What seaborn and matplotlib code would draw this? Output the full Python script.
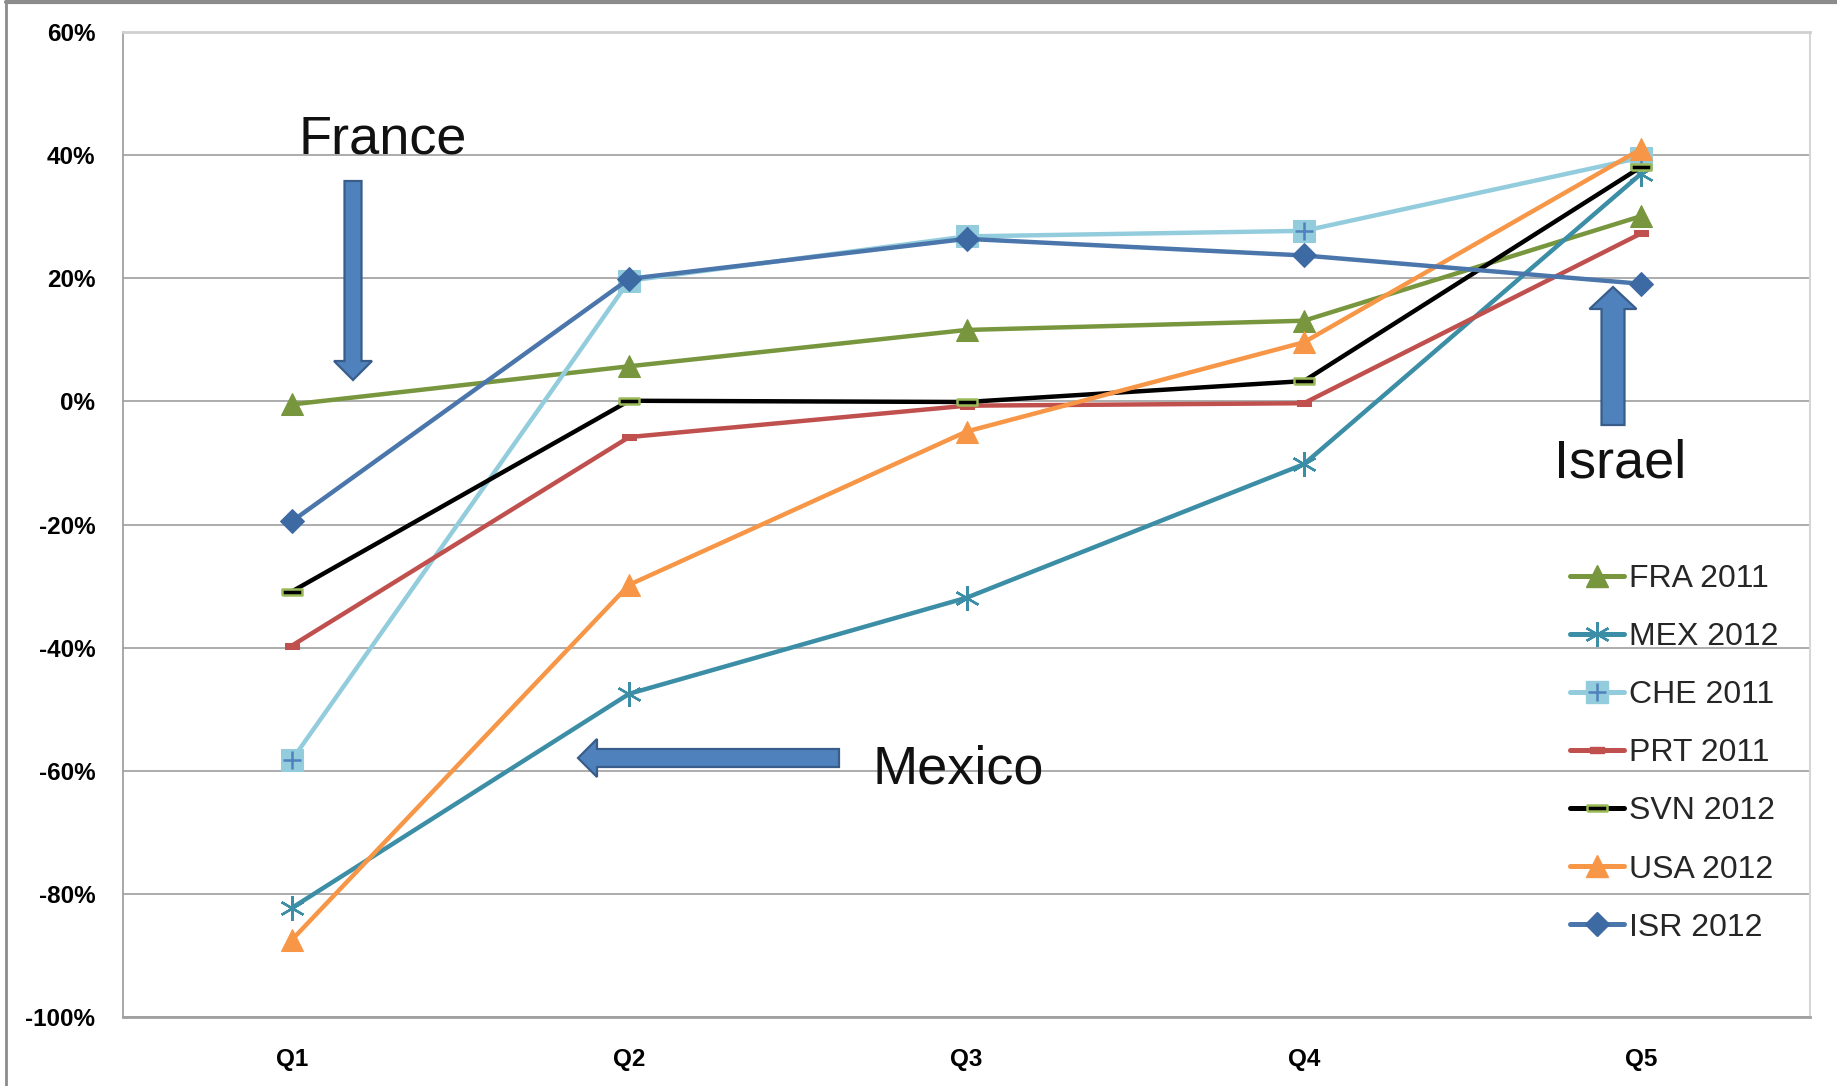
import matplotlib
matplotlib.use("Agg")
import matplotlib.pyplot as plt
from matplotlib.lines import Line2D
from matplotlib.patches import FancyArrow
from matplotlib.ticker import FuncFormatter, FixedLocator
import numpy as np
import pandas as pd
import seaborn as sns

# Income quintiles and the change in each country's series (percent)
quintiles = ["Q1", "Q2", "Q3", "Q4", "Q5"]
fra_2011 = [-0.5, 5.7, 11.6, 13.1, 30.1]
mex_2012 = [-82.3, -47.5, -31.9, -10.2, 37.0]
che_2011 = [-58.3, 19.6, 26.8, 27.7, 39.6]
prt_2011 = [-39.7, -5.8, -0.7, -0.3, 27.3]
svn_2012 = [-30.9, 0.1, -0.1, 3.3, 38.1]
usa_2012 = [-87.5, -29.8, -4.9, 9.6, 41.0]
isr_2012 = [-19.5, 19.9, 26.4, 23.7, 19.1]

series_names = ["FRA 2011", "MEX 2012", "CHE 2011", "PRT 2011",
                "SVN 2012", "USA 2012", "ISR 2012"]
series_values = [fra_2011, mex_2012, che_2011, prt_2011,
                 svn_2012, usa_2012, isr_2012]

y_ticks = [60, 40, 20, 0, -20, -40, -60, -80, -100]

sns.set_theme(style="white")
plt.rcParams["font.family"] = ["Liberation Sans", "DejaVu Sans"]
plt.rcParams["axes.unicode_minus"] = False

W, H = 1837, 1086
fig = plt.figure(figsize=(W / 100, H / 100), dpi=100)
ax = fig.add_axes([123 / W, (H - 1017) / H, (1810 - 123) / W, (1017 - 32) / H])

df = pd.DataFrame({"quintile": np.tile(np.arange(len(quintiles)), len(series_names)),
                   "value": np.concatenate(series_values),
                   "series": np.repeat(series_names, len(quintiles))})

dash_small = [(-1, -0.38), (1, -0.38), (1, 0.38), (-1, 0.38), (-1, -0.38)]
dash_wide = [(-1, -0.32), (1, -0.32), (1, 0.32), (-1, 0.32), (-1, -0.32)]
asterisk = (6, 2, 0)

styles = {
    "FRA 2011": dict(color="#77963D", marker="^", markersize=15.5,
                     markerfacecolor="#77963D", markeredgecolor="#77963D"),
    "MEX 2012": dict(color="#3B8EA5", marker=asterisk, markersize=18,
                     markeredgewidth=1.7, markeredgecolor="#3B8EA5"),
    "CHE 2011": dict(color="#93CDDD", marker="s", markersize=16,
                     markerfacecolor="#93CDDD", markeredgecolor="#93CDDD"),
    "PRT 2011": dict(color="#C0504D", marker=dash_small, markersize=10,
                     markerfacecolor="#C0504D", markeredgecolor="#C0504D"),
    "SVN 2012": dict(color="black", marker=dash_wide, markersize=15,
                     markerfacecolor="black", markeredgecolor="#9BBB59",
                     markeredgewidth=1.8),
    "USA 2012": dict(color="#F79646", marker="^", markersize=15.5,
                     markerfacecolor="#F79646", markeredgecolor="#F79646"),
    "ISR 2012": dict(color="#4A76AC", marker="D", markersize=12,
                     markerfacecolor="#3E6AA3", markeredgecolor="#3E6AA3"),
}
plus_style = dict(marker="+", markersize=13, markeredgewidth=1.8,
                  markeredgecolor="#4F81BD", linestyle="none")

handles = []
for i, name in enumerate(series_names):
    sub = df[df["series"] == name]
    st = styles[name]
    sns.lineplot(data=sub, x="quintile", y="value", ax=ax, linewidth=3.2,
                 zorder=3 + i, legend=False, **st)
    h = Line2D([], [], linewidth=3.6, **st)
    if name == "CHE 2011":
        sns.lineplot(data=sub, x="quintile", y="value", ax=ax, color="#4F81BD",
                     zorder=3 + i, legend=False, **plus_style)
        h = (h, Line2D([], [], **plus_style))
    handles.append(h)

# Axes, grid and ticks
ax.set_xlim(-0.5, len(quintiles) - 0.5)
ax.set_ylim(-100, 60)
ax.set_xlabel("")
ax.set_ylabel("")
ax.xaxis.set_major_locator(FixedLocator(np.arange(len(quintiles))))
ax.set_xticklabels(quintiles)
ax.xaxis.set_minor_locator(FixedLocator(np.arange(-0.5, len(quintiles), 1.0)))
ax.yaxis.set_major_locator(FixedLocator(y_ticks))
ax.yaxis.set_major_formatter(FuncFormatter(lambda v, p: f"{v:.0f}%"))
ax.tick_params(axis="x", which="major", length=0, pad=22, labelsize=17.5)
ax.tick_params(axis="x", which="minor", length=10, width=1, color="#9A9A9A",
               direction="out")
ax.tick_params(axis="y", which="major", length=6, width=1, color="#9A9A9A",
               direction="out", pad=14, labelsize=17.5)
for lab in ax.get_xticklabels() + ax.get_yticklabels():
    lab.set_fontweight("bold")
    lab.set_color("black")
ax.grid(axis="y", color="#A6A6A6", linewidth=1.3, zorder=0)
ax.grid(axis="x", visible=False)
ax.set_axisbelow(True)
ax.spines["left"].set_color("#9A9A9A")
ax.spines["left"].set_linewidth(1.2)
ax.spines["bottom"].set_color("#A0A0A0")
ax.spines["bottom"].set_linewidth(2.0)
ax.spines["top"].set_color("#D0D0D0")
ax.spines["top"].set_linewidth(2.0)
ax.spines["right"].set_color("#D6D6D6")
ax.spines["right"].set_linewidth(1.5)

# Legend
ax.legend(handles, series_names, loc="upper left",
          bbox_to_anchor=(1570 / W, (H - 564) / H), bbox_transform=fig.transFigure,
          frameon=False, fontsize=23, handlelength=1.7, handletextpad=0.15,
          labelspacing=0.88, borderpad=0, borderaxespad=0, numpoints=1)

# Callout labels
label_kw = dict(fontsize=39, color="#111111", ha="left", va="baseline", zorder=20)
ax.text(0.02, 40.3, "France", **label_kw)
ax.text(3.74, -12.4, "Israel", **label_kw)
ax.text(1.722, -62.0, "Mexico", **label_kw)

# Block arrows pointing at the highlighted countries (figure inches)
arrow_kw = dict(length_includes_head=True, facecolor="#4F81BD",
                edgecolor="#385D8A", linewidth=1.6, transform=fig.dpi_scale_trans,
                zorder=25)
fig.add_artist(FancyArrow(3.53, (H - 181) / 100, 0, -(380 - 181) / 100,
                          width=0.17, head_width=0.38, head_length=0.19, **arrow_kw))
fig.add_artist(FancyArrow(16.13, (H - 425) / 100, 0, (425 - 287) / 100,
                          width=0.23, head_width=0.47, head_length=0.22, **arrow_kw))
fig.add_artist(FancyArrow(8.39, (H - 758) / 100, -(839 - 578) / 100, 0,
                          width=0.18, head_width=0.38, head_length=0.19, **arrow_kw))

# Outer frame edges
fig.add_artist(Line2D([6 / W, 6 / W], [0, 1 - 2 / H], transform=fig.transFigure,
                      color="#8C8C8C", linewidth=2))
fig.add_artist(Line2D([6 / W, 1], [1 - 2 / H, 1 - 2 / H], transform=fig.transFigure,
                      color="#8C8C8C", linewidth=3))

fig.savefig("out.png", dpi=100, facecolor="white")
